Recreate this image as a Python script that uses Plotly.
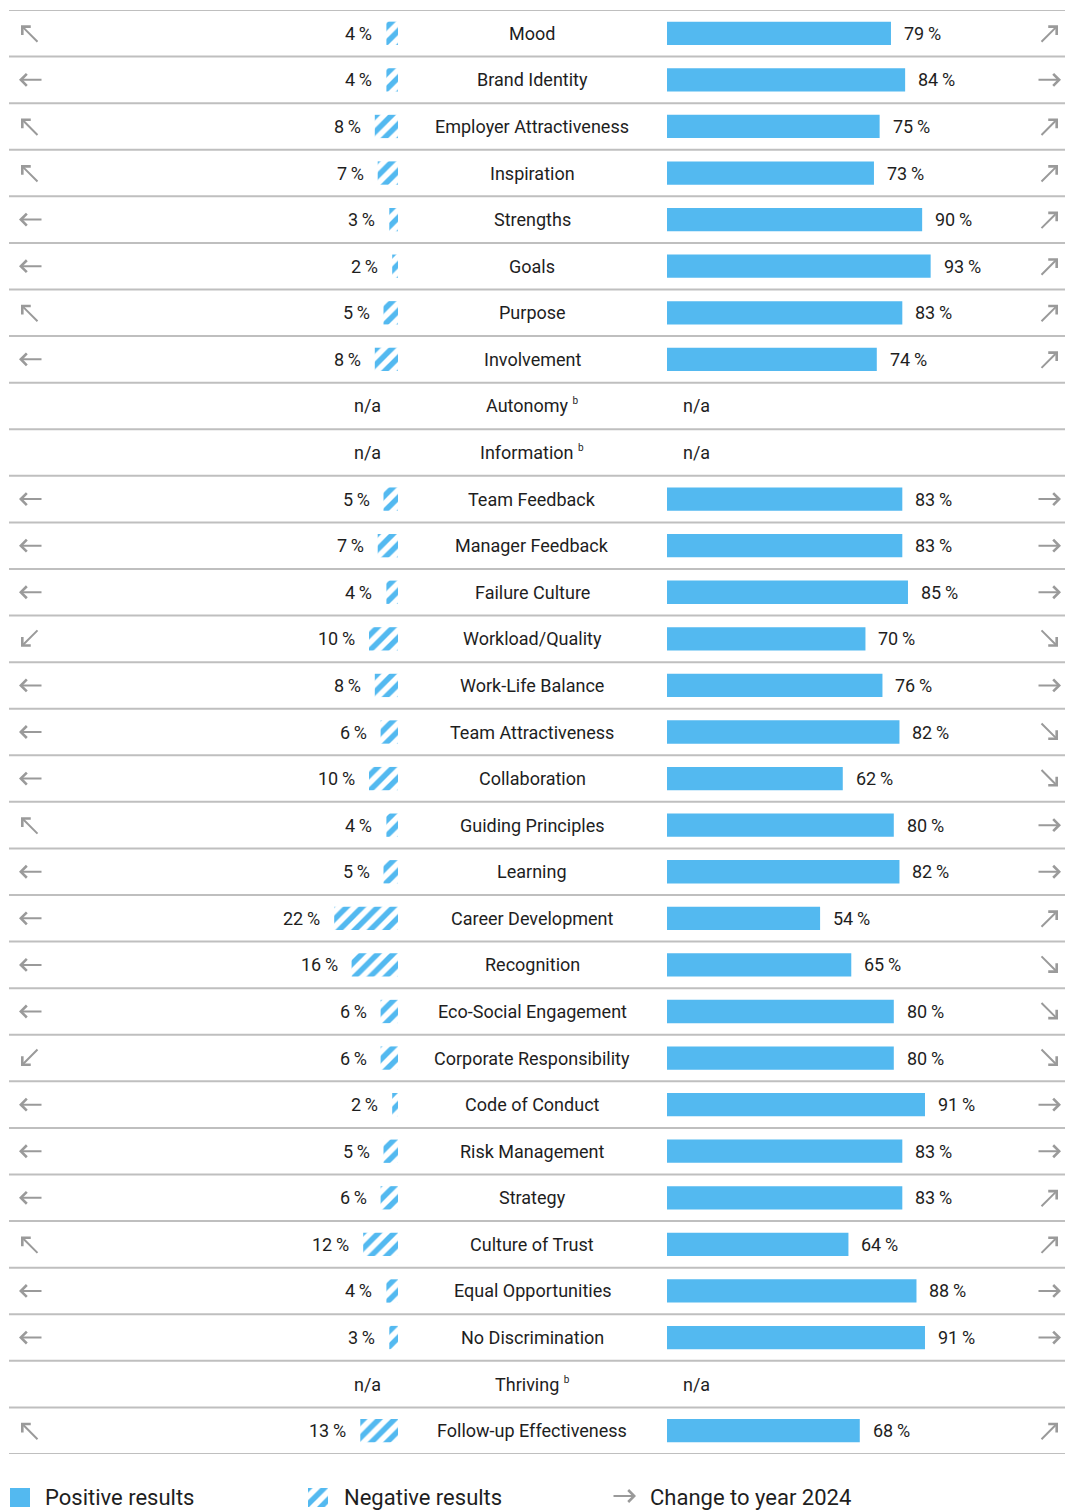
import plotly.graph_objects as go

# ---------------- data ----------------
categories = [
    "Mood", "Brand Identity", "Employer Attractiveness", "Inspiration", "Strengths",
    "Goals", "Purpose", "Involvement", "Autonomy", "Information",
    "Team Feedback", "Manager Feedback", "Failure Culture", "Workload/Quality",
    "Work-Life Balance", "Team Attractiveness", "Collaboration", "Guiding Principles",
    "Learning", "Career Development", "Recognition", "Eco-Social Engagement",
    "Corporate Responsibility", "Code of Conduct", "Risk Management", "Strategy",
    "Culture of Trust", "Equal Opportunities", "No Discrimination", "Thriving",
    "Follow-up Effectiveness",
]
footnote_b = ["Autonomy", "Information", "Thriving"]

negative = [4, 4, 8, 7, 3, 2, 5, 8, None, None, 5, 7, 4, 10, 8, 6, 10, 4, 5, 22,
            16, 6, 6, 2, 5, 6, 12, 4, 3, None, 13]
positive = [79, 84, 75, 73, 90, 93, 83, 74, None, None, 83, 83, 85, 70, 76, 82, 62,
            80, 82, 54, 65, 80, 80, 91, 83, 83, 64, 88, 91, None, 68]
neg_trend = ["up", "flat", "up", "up", "flat", "flat", "up", "flat", None, None,
             "flat", "flat", "flat", "down", "flat", "flat", "flat", "up", "flat",
             "flat", "flat", "flat", "down", "flat", "flat", "flat", "up", "flat",
             "flat", None, "up"]
pos_trend = ["up", "flat", "up", "up", "up", "up", "up", "up", None, None,
             "flat", "flat", "flat", "down", "flat", "down", "down", "flat", "flat",
             "up", "down", "down", "down", "flat", "flat", "up", "up", "flat",
             "flat", None, "up"]

legend_labels = ["Positive results", "Negative results", "Change to year 2024"]

# ---------------- styles ----------------
PAGE_W, PAGE_H = 1065, 1510
OFF = 0
W, H = PAGE_W - OFF, PAGE_H - OFF
BLUE = "#53B9F0"
GREY = "#9a9a9a"
TXT = "#1e1e1e"
FONT = "Roboto"
ROW_TOP, ROW_BOT = 10, 1454
POS_X0, POS_PX = 667, 2.835     # px start, px per percent
NEG_X1, NEG_PX = 398, 2.9

def px(x):
    return (x - OFF) / W

def py(y):
    return 1 - (y - OFF) / H

hatch = dict(shape="/", fgcolor=BLUE, bgcolor="white", fgopacity=1,
             size=11, solidity=0.5, fillmode="replace")

fig = go.Figure()

fig.add_trace(go.Bar(
    y=categories, x=positive, orientation="h", xaxis="x", yaxis="y",
    marker=dict(color=BLUE, line=dict(width=0)), width=0.5,
    name=legend_labels[0], showlegend=False, hoverinfo="skip",
))
fig.add_trace(go.Bar(
    y=categories, x=negative, orientation="h", xaxis="x2", yaxis="y",
    marker=dict(color="white", line=dict(width=0), pattern=hatch),
    width=0.5, name=legend_labels[1], showlegend=False, hoverinfo="skip",
))

annotations = []
shapes = []

# row separators
for i in range(len(categories) + 1):
    shapes.append(dict(type="line", xref="paper", yref="y", x0=px(9), x1=1,
                       y0=i - 0.5, y1=i - 0.5,
                       line=dict(color="#bfbfbf", width=2)))

arrow_geo_right = {"up": (1058, 8, -18, 18), "flat": (1061, 0, -24, 0),
                   "down": (1058, -8, -18, -18)}
arrow_geo_left = {"up": (21, 8, 18, 18), "flat": (19, 0, 24, 0),
                  "down": (21, -8, 18, -18)}

def arrow(xp, yval, yshift, ax, ay, yref="y"):
    return dict(xref="paper", yref=yref, x=px(xp), y=yval, yshift=yshift,
                text="", showarrow=True, arrowhead=4, arrowsize=1.15,
                arrowwidth=2, arrowcolor=GREY, ax=ax, ay=ay,
                axref="pixel", ayref="pixel", standoff=0, startstandoff=0)

for cat, n, p, nt, pt in zip(categories, negative, positive, neg_trend, pos_trend):
    label = cat + (" <sup><span style='font-size:10px'>b</span></sup>"
                   if cat in footnote_b else "")
    annotations.append(dict(xref="paper", yref="y", x=px(532), y=cat, text=label,
                            showarrow=False, xanchor="center",
                            font=dict(size=18, color=TXT, family=FONT)))
    if p is None:
        annotations.append(dict(xref="x", yref="y", x=0, y=cat, text="n/a",
                                showarrow=False, xanchor="left", xshift=14,
                                font=dict(size=18, color=TXT, family=FONT)))
    else:
        annotations.append(dict(xref="x", yref="y", x=p, y=cat,
                                text=f"{p}\u2009%", showarrow=False,
                                xanchor="left", xshift=11,
                                font=dict(size=18, color=TXT, family=FONT)))
    if n is None:
        annotations.append(dict(xref="x2", yref="y", x=0, y=cat, text="n/a",
                                showarrow=False, xanchor="right", xshift=-15,
                                font=dict(size=18, color=TXT, family=FONT)))
    else:
        annotations.append(dict(xref="x2", yref="y", x=n, y=cat,
                                text=f"{n}\u2009%", showarrow=False,
                                xanchor="right", xshift=-12,
                                font=dict(size=18, color=TXT, family=FONT)))
    if pt is not None:
        xp, ys, ax, ay = arrow_geo_right[pt]
        annotations.append(arrow(xp, cat, ys, ax, ay))
    if nt is not None:
        xp, ys, ax, ay = arrow_geo_left[nt]
        annotations.append(arrow(xp, cat, ys, ax, ay))

# ---------------- legend (manual) ----------------
fig.add_trace(go.Bar(
    y=[1497.5], x=[20], base=[10], orientation="h", xaxis="x3", yaxis="y3",
    width=19, marker=dict(color=BLUE, line=dict(width=0)),
    showlegend=False, hoverinfo="skip",
))
fig.add_trace(go.Bar(
    y=[1497.5], x=[20], base=[308], orientation="h", xaxis="x3", yaxis="y3",
    width=19, marker=dict(color="white", line=dict(width=0), pattern=hatch),
    showlegend=False, hoverinfo="skip",
))
for xl, t in zip([43, 342, 648], legend_labels):
    annotations.append(dict(xref="paper", yref="paper", x=px(xl), y=py(1497),
                            text=t, showarrow=False, xanchor="left",
                            yanchor="middle",
                            font=dict(size=22, color=TXT, family=FONT)))
annotations.append(dict(xref="paper", yref="paper", x=px(636), y=py(1496),
                        text="", showarrow=True, arrowhead=4, arrowsize=1.15,
                        arrowwidth=2, arrowcolor=GREY, ax=-24, ay=0,
                        axref="pixel", ayref="pixel", standoff=0))

fig.update_layout(
    width=W, height=H,
    margin=dict(l=0, r=0, t=0, b=0),
    paper_bgcolor="white", plot_bgcolor="white",
    barmode="overlay",
    showlegend=False,
    font=dict(family=FONT, size=18, color=TXT),
    xaxis=dict(domain=[px(POS_X0), px(POS_X0 + 100 * POS_PX)], range=[0, 100],
               visible=False, fixedrange=True, anchor="y"),
    xaxis2=dict(domain=[px(NEG_X1 - 100 * NEG_PX), px(NEG_X1)], range=[100, 0],
                visible=False, fixedrange=True, anchor="y"),
    yaxis=dict(domain=[py(ROW_BOT), py(ROW_TOP)], type="category",
               categoryorder="array", categoryarray=categories,
               range=[len(categories) - 0.5, -0.5], visible=False,
               fixedrange=True),
    xaxis3=dict(domain=[0, 1], range=[OFF, PAGE_W], visible=False, anchor="y3"),
    yaxis3=dict(domain=[0, py(1470)], range=[PAGE_H, 1470], visible=False,
                anchor="x3"),
    annotations=annotations,
    shapes=shapes,
)

fig.write_html(
    "out.html",
    config={"displayModeBar": False},
    post_script="document.body.style.margin='0';"
                "document.body.style.overflow='hidden';",
)
